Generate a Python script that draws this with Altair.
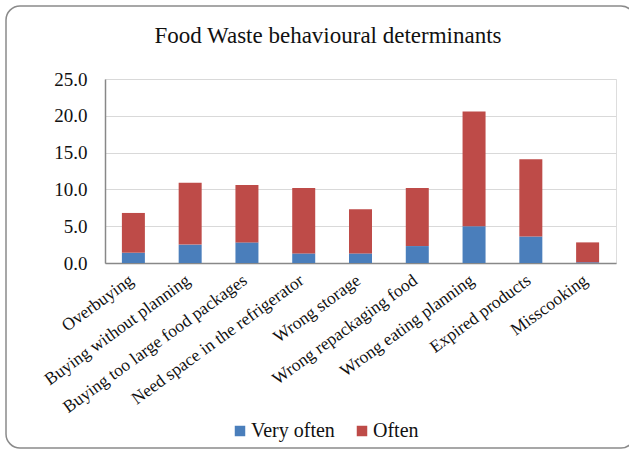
import altair as alt
import pandas as pd

categories = [
    "Overbuying",
    "Buying without planning",
    "Buying too large food packages",
    "Need space in the refrigerator",
    "Wrong storage",
    "Wrong repackaging food",
    "Wrong eating planning",
    "Expired products",
    "Misscooking",
]
very_often = [1.4, 2.5, 2.8, 1.3, 1.3, 2.3, 5.0, 3.6, 0.1]
often = [5.4, 8.4, 7.8, 8.9, 6.0, 7.9, 15.6, 10.5, 2.7]
series_names = ["Very often", "Often"]
series_colors = ["#4A7EBB", "#BE4B48"]
y_ticks = [0, 5, 10, 15, 20, 25]
chart_title = "Food Waste behavioural determinants"

rows = []
for i, cat in enumerate(categories):
    rows.append({"cat": cat, "series": "Very often", "order": 0, "value": very_often[i]})
    rows.append({"cat": cat, "series": "Often", "order": 1, "value": often[i]})
df = pd.DataFrame(rows)

FONT = "Times New Roman, Liberation Serif, serif"

bars = alt.Chart(df).mark_bar(size=23).encode(
    x=alt.X(
        "cat:N",
        sort=categories,
        title=None,
        scale=alt.Scale(paddingInner=0.6, paddingOuter=0.3),
        axis=alt.Axis(
            labelAngle=-36,
            labelAlign="right",
            labelBaseline="top",
            labelFont=FONT,
            labelFontSize=17.5,
            labelColor="#111",
            labelLimit=400,
            labelOffset=-7,
            ticks=False,
            domainColor="#888",
            domainWidth=1.5,
            labelPadding=8,
        ),
    ),
    y=alt.Y(
        "value:Q",
        stack="zero",
        title=None,
        scale=alt.Scale(domain=[0, 25], nice=False),
        axis=alt.Axis(
            values=y_ticks,
            format=".1f",
            labelFont=FONT,
            labelFontSize=19,
            labelColor="#111",
            ticks=False,
            labelPadding=18,
            domainColor="#888",
            domainWidth=1.5,
            gridColor="#d9d9d9",
            gridWidth=1.2,
        ),
    ),
    color=alt.Color(
        "series:N",
        scale=alt.Scale(domain=series_names, range=series_colors),
        legend=alt.Legend(
            title=None,
            orient="none",
            direction="horizontal",
            legendX=125,
            legendY=342,
            symbolType="square",
            symbolSize=110,
            symbolStrokeWidth=0,
            labelFont=FONT,
            labelFontSize=20,
            labelColor="#111",
            columnPadding=17,
            labelOffset=1,
        ),
    ),
    order=alt.Order("order:Q"),
)

one_row = pd.DataFrame({"k": [0]})

# outer rounded border around the whole chart
frame = alt.Chart(one_row).mark_rect(
    fill="transparent", stroke="#8a8a8a", strokeWidth=1.5, cornerRadius=14
).encode(
    x=alt.value(-99), x2=alt.value(530), y=alt.value(-73), y2=alt.value(369)
)

title = alt.Chart(one_row).mark_text(
    text=chart_title,
    font=FONT,
    fontSize=23,
    color="#111",
    align="center",
    baseline="alphabetic",
).encode(x=alt.value(223), y=alt.value(-36))

chart = alt.layer(frame, title, bars).properties(
    width=511,
    height=184,
    autosize=alt.AutoSizeParams(type="none"),
    padding={"left": 105, "top": 79, "right": 13, "bottom": 187},
).configure_view(stroke=None).configure(background="white")

chart.save("out.html", embed_options={"renderer": "svg", "actions": False})
